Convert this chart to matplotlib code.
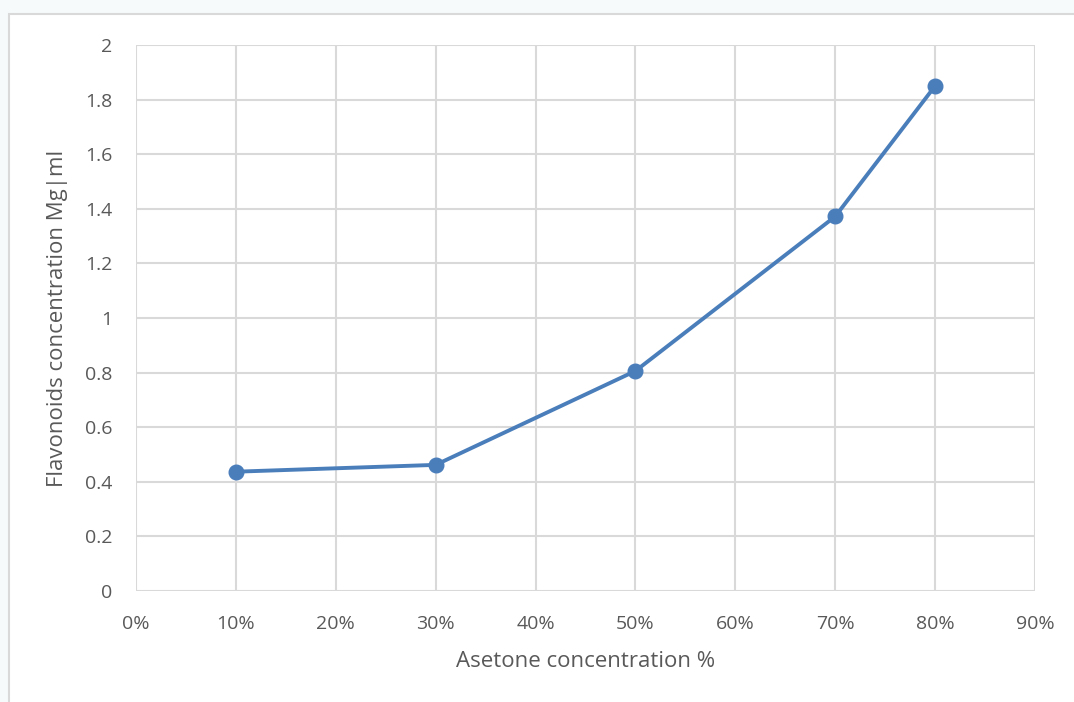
import matplotlib
matplotlib.use('Agg')
import matplotlib.pyplot as plt
from matplotlib.patches import Rectangle
from matplotlib.ticker import PercentFormatter

acetone = [10, 30, 50, 70, 80]
flavonoids = [0.437, 0.462, 0.806, 1.372, 1.850]

W, H = 1074, 702
plt.rcParams['font.family'] = ['Open Sans', 'DejaVu Sans']

fig = plt.figure(figsize=(W / 100, H / 100), dpi=100)
fig.patch.set_facecolor('#f6fafb')

# chart frame
fig.add_artist(Rectangle((9 / W, -0.1), 1.2, 1.1 - 14 / H, transform=fig.transFigure,
                         facecolor='white', edgecolor='#d9d9d9', linewidth=1.5, zorder=-5))

ax = fig.add_axes([136 / W, 1 - 591 / H, (1035 - 136) / W, (591 - 45) / H])
ax.patch.set_alpha(0)
ax.plot(acetone, flavonoids, color='#4a7ebb', linewidth=2.8, marker='o',
        markersize=10.5, solid_capstyle='round', zorder=3)

ax.set_xlim(0, 90)
ax.set_ylim(0, 2)
ax.set_xticks(range(0, 91, 10))
ax.set_yticks([0, 0.2, 0.4, 0.6, 0.8, 1, 1.2, 1.4, 1.6, 1.8, 2])
ax.set_yticklabels(['0', '0.2', '0.4', '0.6', '0.8', '1', '1.2', '1.4', '1.6', '1.8', '2'])
ax.xaxis.set_major_formatter(PercentFormatter(decimals=0))
ax.grid(True, color='#d9d9d9', linewidth=1.5)
ax.set_axisbelow(True)
for s in ax.spines.values():
    s.set_visible(False)
ax.tick_params(length=0, colors='#595959', labelsize=14)
ax.tick_params(axis='x', pad=17)
ax.tick_params(axis='y', pad=17)

ax.set_xlabel('Asetone concentration %', fontsize=16, color='#595959', labelpad=13)
ax.set_ylabel('Flavonoids concentration Mg|ml', fontsize=16, color='#595959', labelpad=12)

fig.savefig('out.png', dpi=100, facecolor=fig.get_facecolor())
